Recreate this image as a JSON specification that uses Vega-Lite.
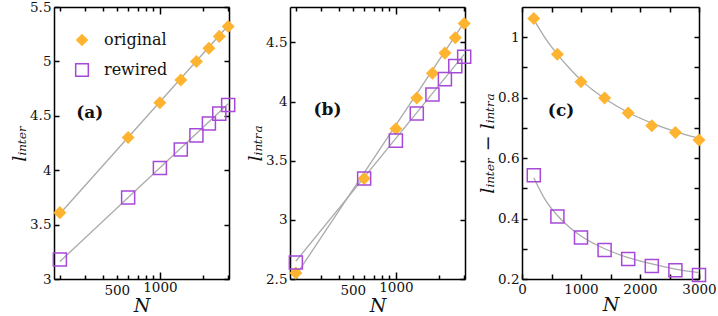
{
  "$schema": "https://vega.github.io/schema/vega-lite/v6.json",
  "background": "white",
  "padding": {"left": 10, "right": 14, "top": 0, "bottom": 0},
  "config": {
    "view": {"stroke": null},
    "font": "DejaVu Serif",
    "axis": {
      "labelFont": "DejaVu Serif", "labelFontSize": 13.5, "labelColor": "#111",
      "titleFont": "DejaVu Serif", "titleFontSize": 19, "titleFontWeight": "normal", "titleFontStyle": "italic", "titleColor": "#111",
      "domainColor": "#000", "domainWidth": 1.5, "tickColor": "#000", "tickWidth": 1.5, "tickSize": -5,
      "grid": false, "labelPadding": 8, "labelFlush": false, "labelOverlap": false, "titlePadding": 0
    },
    "legend": {
      "orient": "none", "legendX": 20, "legendY": 25,
      "labelFont": "DejaVu Serif", "labelFontSize": 16, "labelColor": "#111",
      "symbolSize": 160, "symbolStrokeWidth": 1.5, "rowPadding": 10, "labelOffset": 14, "title": null
    }
  },
  "datasets": {
    "pts": [
      {"panel": "a", "series": "original", "N": 200, "value": 3.61},
      {"panel": "a", "series": "original", "N": 600, "value": 4.30},
      {"panel": "a", "series": "original", "N": 1000, "value": 4.62},
      {"panel": "a", "series": "original", "N": 1400, "value": 4.83},
      {"panel": "a", "series": "original", "N": 1800, "value": 5.00},
      {"panel": "a", "series": "original", "N": 2200, "value": 5.12},
      {"panel": "a", "series": "original", "N": 2600, "value": 5.23},
      {"panel": "a", "series": "original", "N": 3000, "value": 5.32},
      {"panel": "a", "series": "rewired", "N": 200, "value": 3.18},
      {"panel": "a", "series": "rewired", "N": 600, "value": 3.75},
      {"panel": "a", "series": "rewired", "N": 1000, "value": 4.02},
      {"panel": "a", "series": "rewired", "N": 1400, "value": 4.19},
      {"panel": "a", "series": "rewired", "N": 1800, "value": 4.32},
      {"panel": "a", "series": "rewired", "N": 2200, "value": 4.43},
      {"panel": "a", "series": "rewired", "N": 2600, "value": 4.52},
      {"panel": "a", "series": "rewired", "N": 3000, "value": 4.60},
      {"panel": "b", "series": "original", "N": 200, "value": 2.55},
      {"panel": "b", "series": "original", "N": 600, "value": 3.35},
      {"panel": "b", "series": "original", "N": 1000, "value": 3.77},
      {"panel": "b", "series": "original", "N": 1400, "value": 4.03},
      {"panel": "b", "series": "original", "N": 1800, "value": 4.24},
      {"panel": "b", "series": "original", "N": 2200, "value": 4.41},
      {"panel": "b", "series": "original", "N": 2600, "value": 4.54},
      {"panel": "b", "series": "original", "N": 3000, "value": 4.66},
      {"panel": "b", "series": "rewired", "N": 200, "value": 2.64},
      {"panel": "b", "series": "rewired", "N": 600, "value": 3.35},
      {"panel": "b", "series": "rewired", "N": 1000, "value": 3.67},
      {"panel": "b", "series": "rewired", "N": 1400, "value": 3.90},
      {"panel": "b", "series": "rewired", "N": 1800, "value": 4.06},
      {"panel": "b", "series": "rewired", "N": 2200, "value": 4.19},
      {"panel": "b", "series": "rewired", "N": 2600, "value": 4.30},
      {"panel": "b", "series": "rewired", "N": 3000, "value": 4.38},
      {"panel": "c", "series": "original", "N": 200, "value": 1.062},
      {"panel": "c", "series": "original", "N": 600, "value": 0.944},
      {"panel": "c", "series": "original", "N": 1000, "value": 0.853},
      {"panel": "c", "series": "original", "N": 1400, "value": 0.799},
      {"panel": "c", "series": "original", "N": 1800, "value": 0.749},
      {"panel": "c", "series": "original", "N": 2200, "value": 0.707},
      {"panel": "c", "series": "original", "N": 2600, "value": 0.685},
      {"panel": "c", "series": "original", "N": 3000, "value": 0.660},
      {"panel": "c", "series": "rewired", "N": 200, "value": 0.543},
      {"panel": "c", "series": "rewired", "N": 600, "value": 0.407},
      {"panel": "c", "series": "rewired", "N": 1000, "value": 0.337},
      {"panel": "c", "series": "rewired", "N": 1400, "value": 0.296},
      {"panel": "c", "series": "rewired", "N": 1800, "value": 0.266},
      {"panel": "c", "series": "rewired", "N": 2200, "value": 0.243},
      {"panel": "c", "series": "rewired", "N": 2600, "value": 0.229},
      {"panel": "c", "series": "rewired", "N": 3000, "value": 0.213}
    ],
    "fit": [
      {"panel": "a", "series": "original", "N": 200, "value": 3.60},
      {"panel": "a", "series": "original", "N": 3000, "value": 5.33},
      {"panel": "a", "series": "rewired", "N": 200, "value": 3.16},
      {"panel": "a", "series": "rewired", "N": 3000, "value": 4.61},
      {"panel": "b", "series": "original", "N": 200, "value": 2.53},
      {"panel": "b", "series": "original", "N": 3000, "value": 4.67},
      {"panel": "b", "series": "rewired", "N": 200, "value": 2.65},
      {"panel": "b", "series": "rewired", "N": 3000, "value": 4.40},
      {"panel": "c", "series": "original", "N": 200, "value": 1.058},
      {"panel": "c", "series": "original", "N": 400, "value": 0.995},
      {"panel": "c", "series": "original", "N": 600, "value": 0.943},
      {"panel": "c", "series": "original", "N": 800, "value": 0.898},
      {"panel": "c", "series": "original", "N": 1000, "value": 0.858},
      {"panel": "c", "series": "original", "N": 1200, "value": 0.825},
      {"panel": "c", "series": "original", "N": 1400, "value": 0.797},
      {"panel": "c", "series": "original", "N": 1800, "value": 0.751},
      {"panel": "c", "series": "original", "N": 2200, "value": 0.716},
      {"panel": "c", "series": "original", "N": 2600, "value": 0.688},
      {"panel": "c", "series": "original", "N": 3000, "value": 0.666},
      {"panel": "c", "series": "rewired", "N": 200, "value": 0.535},
      {"panel": "c", "series": "rewired", "N": 400, "value": 0.460},
      {"panel": "c", "series": "rewired", "N": 600, "value": 0.410},
      {"panel": "c", "series": "rewired", "N": 800, "value": 0.372},
      {"panel": "c", "series": "rewired", "N": 1000, "value": 0.342},
      {"panel": "c", "series": "rewired", "N": 1400, "value": 0.300},
      {"panel": "c", "series": "rewired", "N": 1800, "value": 0.271},
      {"panel": "c", "series": "rewired", "N": 2200, "value": 0.250},
      {"panel": "c", "series": "rewired", "N": 2600, "value": 0.233},
      {"panel": "c", "series": "rewired", "N": 3000, "value": 0.221}
    ],
    "labels": [
      {"panel": "a", "N": 324, "value": 4.53, "text": "(a)"},
      {"panel": "b", "N": 333, "value": 3.93, "text": "(b)"},
      {"panel": "c", "N": 662, "value": 0.757, "text": "(c)"}
    ]
  },
  "spacing": 4,
  "hconcat": [
    {
      "spacing": 8,
      "hconcat": [
        {
          "width": 175, "height": 272,
          "layer": [
            {
              "data": {"name": "fit"},
              "transform": [{"filter": "datum.panel == 'a'"}],
              "mark": {"type": "line", "color": "#aaaaaa", "strokeWidth": 1.3},
              "encoding": {
                "x": {"field": "N", "type": "quantitative", "scale": {"type": "log", "domain": [182, 3040]},
                  "axis": {"orient": "bottom", "title": "N", "values": [200,300,400,500,600,700,800,900,1000,2000,3000],
                    "labelExpr": "datum.value == 500 || datum.value == 1000 ? format(datum.value, 'd') : ''",
                    "tickSize": {"condition": {"test": "datum.value == 1000", "value": -7}, "value": -4}}},
                "y": {"field": "value", "type": "quantitative", "scale": {"domain": [3, 5.5]},
                  "axis": {"orient": "left", "title": "lᵢₙₜₑᵣ", "values": [3, 3.5, 4, 4.5, 5, 5.5], "format": "~g"}},
                "detail": {"field": "series"}
              }
            },
            {
              "data": {"name": "pts"},
              "transform": [{"filter": "datum.panel == 'a'"}],
              "mark": {"type": "point", "size": 170, "strokeWidth": 1.5, "opacity": 1},
              "encoding": {
                "x": {"field": "N", "type": "quantitative", "scale": {"type": "log", "domain": [182, 3040]},
                  "axis": {"orient": "top", "title": null, "labels": false, "values": [200,300,400,500,600,700,800,900,1000,2000,3000],
                    "tickSize": {"condition": {"test": "datum.value == 1000", "value": -7}, "value": -4}}},
                "y": {"field": "value", "type": "quantitative", "scale": {"domain": [3, 5.5]},
                  "axis": {"orient": "right", "title": null, "labels": false, "values": [3, 3.5, 4, 4.5, 5, 5.5]}},
                "shape": {"field": "series", "type": "nominal", "scale": {"domain": ["original", "rewired"], "range": ["diamond", "square"]}, "legend": {"title": null}},
                "fill": {"field": "series", "type": "nominal", "scale": {"domain": ["original", "rewired"], "range": ["#FFB431", "transparent"]}, "legend": {"title": null}},
                "stroke": {"field": "series", "type": "nominal", "scale": {"domain": ["original", "rewired"], "range": ["transparent", "#A648D8"]}, "legend": {"title": null}}
              }
            },
            {
              "data": {"name": "labels"},
              "transform": [{"filter": "datum.panel == 'a'"}],
              "mark": {"type": "text", "font": "DejaVu Serif", "fontSize": 17, "fontWeight": "bold", "color": "#111"},
              "encoding": {
                "x": {"field": "N", "type": "quantitative", "scale": {"type": "log", "domain": [182, 3040]}, "axis": null},
                "y": {"field": "value", "type": "quantitative", "scale": {"domain": [3, 5.5]}, "axis": null},
                "text": {"field": "text"}
              }
            }
          ],
          "resolve": {"axis": {"x": "independent", "y": "independent"}}
        },
        {
          "width": 175, "height": 272,
          "layer": [
            {
              "data": {"name": "fit"},
              "transform": [{"filter": "datum.panel == 'b'"}],
              "mark": {"type": "line", "color": "#aaaaaa", "strokeWidth": 1.3},
              "encoding": {
                "x": {"field": "N", "type": "quantitative", "scale": {"type": "log", "domain": [182, 3040]},
                  "axis": {"orient": "bottom", "title": "N", "values": [200,300,400,500,600,700,800,900,1000,2000,3000],
                    "labelExpr": "datum.value == 500 || datum.value == 1000 ? format(datum.value, 'd') : ''",
                    "tickSize": {"condition": {"test": "datum.value == 1000", "value": -7}, "value": -4}}},
                "y": {"field": "value", "type": "quantitative", "scale": {"domain": [2.5, 4.8]},
                  "axis": {"orient": "left", "title": "lᵢₙₜᵣₐ", "values": [2.5, 3, 3.5, 4, 4.5], "format": "~g"}},
                "detail": {"field": "series"}
              }
            },
            {
              "data": {"name": "pts"},
              "transform": [{"filter": "datum.panel == 'b'"}],
              "mark": {"type": "point", "size": 170, "strokeWidth": 1.5, "opacity": 1},
              "encoding": {
                "x": {"field": "N", "type": "quantitative", "scale": {"type": "log", "domain": [182, 3040]},
                  "axis": {"orient": "top", "title": null, "labels": false, "values": [200,300,400,500,600,700,800,900,1000,2000,3000],
                    "tickSize": {"condition": {"test": "datum.value == 1000", "value": -7}, "value": -4}}},
                "y": {"field": "value", "type": "quantitative", "scale": {"domain": [2.5, 4.8]},
                  "axis": {"orient": "right", "title": null, "labels": false, "values": [2.5, 3, 3.5, 4, 4.5]}},
                "shape": {"field": "series", "type": "nominal", "scale": {"domain": ["original", "rewired"], "range": ["diamond", "square"]}, "legend": {"title": null}},
                "fill": {"field": "series", "type": "nominal", "scale": {"domain": ["original", "rewired"], "range": ["#FFB431", "transparent"]}, "legend": {"title": null}},
                "stroke": {"field": "series", "type": "nominal", "scale": {"domain": ["original", "rewired"], "range": ["transparent", "#A648D8"]}, "legend": {"title": null}}
              }
            },
            {
              "data": {"name": "labels"},
              "transform": [{"filter": "datum.panel == 'b'"}],
              "mark": {"type": "text", "font": "DejaVu Serif", "fontSize": 17, "fontWeight": "bold", "color": "#111"},
              "encoding": {
                "x": {"field": "N", "type": "quantitative", "scale": {"type": "log", "domain": [182, 3040]}, "axis": null},
                "y": {"field": "value", "type": "quantitative", "scale": {"domain": [2.5, 4.8]}, "axis": null},
                "text": {"field": "text"}
              }
            }
          ],
          "resolve": {"axis": {"x": "independent", "y": "independent"}}
        }
      ]
    },
    {
      "width": 177, "height": 272,
      "layer": [
        {
          "data": {"name": "fit"},
          "transform": [{"filter": "datum.panel == 'c'"}],
          "mark": {"type": "line", "color": "#aaaaaa", "strokeWidth": 1.3, "interpolate": "monotone"},
          "encoding": {
            "x": {"field": "N", "type": "quantitative", "scale": {"domain": [0, 3000]},
              "axis": {"orient": "bottom", "title": "N", "values": [0, 500, 1000, 1500, 2000, 2500, 3000],
                "labelExpr": "datum.value % 1000 == 0 ? format(datum.value, 'd') : ''"}},
            "y": {"field": "value", "type": "quantitative", "scale": {"domain": [0.2, 1.1]},
              "axis": {"orient": "left", "title": "lᵢₙₜₑᵣ − lᵢₙₜᵣₐ", "values": [0.2, 0.3, 0.4, 0.5, 0.6, 0.7, 0.8, 0.9, 1.0],
                "labelExpr": "round(datum.value * 10) % 2 == 0 ? format(datum.value, '~g') : ''"}},
            "detail": {"field": "series"}
          }
        },
        {
          "data": {"name": "pts"},
          "transform": [{"filter": "datum.panel == 'c'"}],
          "mark": {"type": "point", "size": 170, "strokeWidth": 1.5, "opacity": 1},
          "encoding": {
            "x": {"field": "N", "type": "quantitative", "scale": {"domain": [0, 3000]},
              "axis": {"orient": "top", "title": null, "labels": false, "values": [0, 500, 1000, 1500, 2000, 2500, 3000]}},
            "y": {"field": "value", "type": "quantitative", "scale": {"domain": [0.2, 1.1]},
              "axis": {"orient": "right", "title": null, "labels": false, "values": [0.2, 0.3, 0.4, 0.5, 0.6, 0.7, 0.8, 0.9, 1.0]}},
            "shape": {"field": "series", "type": "nominal", "scale": {"domain": ["original", "rewired"], "range": ["diamond", "square"]}, "legend": {"title": null}},
            "fill": {"field": "series", "type": "nominal", "scale": {"domain": ["original", "rewired"], "range": ["#FFB431", "transparent"]}, "legend": {"title": null}},
            "stroke": {"field": "series", "type": "nominal", "scale": {"domain": ["original", "rewired"], "range": ["transparent", "#A648D8"]}, "legend": {"title": null}}
          }
        },
        {
          "data": {"name": "labels"},
          "transform": [{"filter": "datum.panel == 'c'"}],
          "mark": {"type": "text", "font": "DejaVu Serif", "fontSize": 17, "fontWeight": "bold", "color": "#111"},
          "encoding": {
            "x": {"field": "N", "type": "quantitative", "scale": {"domain": [0, 3000]}, "axis": null},
            "y": {"field": "value", "type": "quantitative", "scale": {"domain": [0.2, 1.1]}, "axis": null},
            "text": {"field": "text"}
          }
        }
      ],
      "resolve": {"axis": {"x": "independent", "y": "independent"}}
    }
  ]
}
